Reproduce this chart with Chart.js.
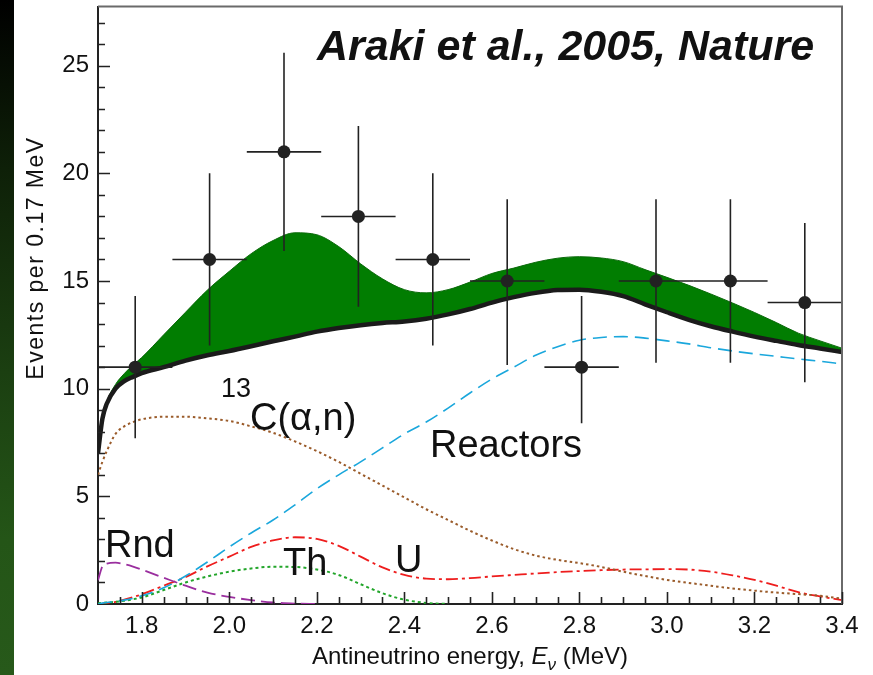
<!DOCTYPE html>
<html>
<head>
<meta charset="utf-8">
<title>Araki et al., 2005 - antineutrino spectrum</title>
<script src="https://cdn.jsdelivr.net/npm/chart.js@4.4.0/dist/chart.umd.min.js"></script>
<style>
  html, body { margin: 0; padding: 0; background: #fff; }
  #wrap { position: relative; width: 873px; height: 675px; background: #fff; overflow: hidden; }
  #strip { position: absolute; left: 0; top: 0; width: 14px; height: 675px;
           background: linear-gradient(to bottom, #000 0%, #0e2008 25%, #1b3f11 55%, #245517 80%, #27591a 100%); }
  #chart { position: absolute; left: 0; top: 0; }
</style>
</head>
<body>
<div id="wrap">
  <div id="strip"></div>
  <canvas id="chart" width="873" height="675"></canvas>
</div>
<script>
// Energy grid (MeV) the model curves are read at
const energy = [1.70, 1.71, 1.72, 1.74, 1.76, 1.78, 1.80, 1.85, 1.90, 1.95,
                2.00, 2.05, 2.10, 2.15, 2.20, 2.25, 2.30, 2.35, 2.40, 2.45,
                2.50, 2.55, 2.60, 2.65, 2.70, 2.75, 2.80, 2.85, 2.90, 2.95,
                3.00, 3.05, 3.10, 3.15, 3.20, 3.25, 3.30, 3.35, 3.40];

// total expected without geoneutrinos (thick black line)
const totalNoGeo = [7.0, 8.6, 9.3, 10.0, 10.35, 10.55, 10.72, 11.0, 11.3, 11.55,
                    11.75, 11.97, 12.2, 12.42, 12.65, 12.82, 12.95, 13.05, 13.12, 13.25,
                    13.45, 13.7, 14.0, 14.25, 14.45, 14.58, 14.6, 14.5, 14.3, 13.92,
                    13.55, 13.2, 12.9, 12.65, 12.42, 12.22, 12.03, 11.87, 11.7];

// upper edge of the green band (with geoneutrinos)
const totalWithGeo = [7.0, 8.65, 9.4, 10.2, 10.7, 11.1, 11.45, 12.5, 13.55, 14.58,
                      15.45, 16.27, 16.88, 17.24, 17.15, 16.6, 15.8, 15.1, 14.6, 14.45,
                      14.6, 14.95, 15.35, 15.6, 15.87, 16.06, 16.13, 16.07, 15.9, 15.53,
                      15.17, 14.8, 14.4, 13.98, 13.54, 13.07, 12.58, 12.22, 11.88];

const reactors = [0.0, 0.04, 0.07, 0.12, 0.18, 0.26, 0.38, 0.75, 1.3, 1.95,
                  2.65, 3.3, 3.9, 4.6, 5.35, 6.0, 6.6, 7.25, 7.9, 8.45,
                  9.1, 9.8, 10.45, 11.0, 11.55, 11.95, 12.25, 12.38, 12.42, 12.35,
                  12.22, 12.08, 11.9, 11.75, 11.62, 11.5, 11.38, 11.27, 11.15];

const carbon13 = [6.0, 6.6, 7.1, 7.9, 8.25, 8.45, 8.58, 8.7, 8.7, 8.62,
                  8.5, 8.25, 7.95, 7.55, 7.1, 6.6, 6.05, 5.5, 4.95, 4.4,
                  3.9, 3.4, 2.95, 2.55, 2.25, 2.05, 1.9, 1.72, 1.5, 1.3,
                  1.12, 0.98, 0.85, 0.72, 0.62, 0.53, 0.46, 0.38, 0.25];

const rnd = [1.1, 1.75, 1.88, 1.92, 1.85, 1.74, 1.6, 1.22, 0.85, 0.53,
             0.33, 0.18, 0.07, 0.02, 0.0, null, null, null, null, null,
             null, null, null, null, null, null, null, null, null, null,
             null, null, null, null, null, null, null, null, null];

const thorium = [0.03, 0.05, 0.07, 0.1, 0.15, 0.22, 0.3, 0.65, 1.0, 1.28,
                 1.5, 1.65, 1.73, 1.72, 1.6, 1.35, 0.92, 0.5, 0.2, 0.05,
                 0.0, null, null, null, null, null, null, null, null, null,
                 null, null, null, null, null, null, null, null, null];

const uranium = [0.0, 0.02, 0.05, 0.1, 0.2, 0.32, 0.45, 0.85, 1.25, 1.75,
                 2.2, 2.65, 2.95, 3.1, 3.02, 2.7, 2.2, 1.7, 1.35, 1.18,
                 1.15, 1.2, 1.28, 1.35, 1.42, 1.48, 1.53, 1.57, 1.6, 1.61,
                 1.62, 1.6, 1.5, 1.33, 1.12, 0.85, 0.55, 0.35, 0.18];

// observed events, 0.17 MeV bins
const binCenter = [1.785, 1.955, 2.125, 2.295, 2.465, 2.635, 2.805, 2.975, 3.145, 3.315];
const observed  = [11, 16, 21, 18, 16, 15, 11, 15, 15, 14];
const errUp     = [3.3, 4.0, 4.6, 4.2, 4.0, 3.8, 3.3, 3.8, 3.8, 3.7];
const errDown   = [3.3, 4.0, 4.6, 4.2, 4.0, 3.9, 2.6, 3.8, 3.8, 3.7];
const binWidth  = 0.17;

// tick labels
const xTickLabels = [1.8, 2.0, 2.2, 2.4, 2.6, 2.8, 3.0, 3.2, 3.4];
const yTickLabels = [0, 5, 10, 15, 20, 25];

const FONT = '"Liberation Sans", Arial, Helvetica, sans-serif';

function curve(values) {
    return energy.map(function (e, i) { return {x: e, y: values[i]}; });
}

// error bars under the data markers
const errorBars = {
    id: 'errorBars',
    beforeDatasetDraw: function (chart, args) {
        if (args.index !== 7) return;
        const ctx = chart.ctx, a = chart.chartArea;
        const xs = chart.scales.x, ys = chart.scales.y;
        ctx.save();
        ctx.beginPath();
        ctx.rect(a.left, a.top, a.right - a.left, a.bottom - a.top);
        ctx.clip();
        ctx.strokeStyle = '#222';
        ctx.lineWidth = 1.6;
        binCenter.forEach(function (e, i) {
            const px = xs.getPixelForValue(e);
            const py = ys.getPixelForValue(observed[i]);
            ctx.beginPath();
            ctx.moveTo(xs.getPixelForValue(e - binWidth / 2), py);
            ctx.lineTo(xs.getPixelForValue(e + binWidth / 2), py);
            ctx.moveTo(px, ys.getPixelForValue(observed[i] + errUp[i]));
            ctx.lineTo(px, ys.getPixelForValue(observed[i] - errDown[i]));
            ctx.stroke();
        });
        ctx.restore();
    }
};

// frame, inward ticks, titles and curve labels
const decorations = {
    id: 'decorations',
    afterDraw: function (chart) {
        const ctx = chart.ctx, a = chart.chartArea;
        const xs = chart.scales.x, ys = chart.scales.y;
        ctx.save();

        // top and right frame
        ctx.strokeStyle = '#6a6a6a';
        ctx.lineWidth = 2;
        ctx.beginPath();
        ctx.moveTo(a.left, a.top);
        ctx.lineTo(a.right, a.top);
        ctx.lineTo(a.right, a.bottom);
        ctx.stroke();

        // inward ticks
        ctx.strokeStyle = '#222';
        ctx.lineWidth = 1.6;
        ctx.beginPath();
        for (let k = 35; k <= 68; k++) {
            const px = Math.round(xs.getPixelForValue(k * 0.05)) + 0.5;
            const len = (k % 4 === 0) ? 12 : 7;
            ctx.moveTo(px, a.bottom);
            ctx.lineTo(px, a.bottom - len);
        }
        for (let v = 1; v <= 27; v++) {
            const py = Math.round(ys.getPixelForValue(v)) + 0.5;
            const len = (v % 5 === 0) ? 12 : 7;
            ctx.moveTo(a.left, py);
            ctx.lineTo(a.left + len, py);
        }
        ctx.stroke();

        ctx.fillStyle = '#111';
        ctx.textBaseline = 'alphabetic';
        ctx.textAlign = 'left';

        // title
        ctx.font = 'italic bold 43px ' + FONT;
        ctx.fillText('Araki et al., 2005, Nature', 317, 60);

        // curve labels
        ctx.font = '27px ' + FONT;
        ctx.fillText('13', 221, 397);
        ctx.font = '38px ' + FONT;
        ctx.fillText('C(\u03b1,n)', 250, 430);
        ctx.fillText('Reactors', 430, 457);
        ctx.fillText('Rnd', 105, 557);
        ctx.fillText('Th', 283, 575);
        ctx.fillText('U', 395, 572);

        // x axis title with italic E and subscript nu
        const parts = [
            {t: 'Antineutrino energy, ', f: '24px ' + FONT, dy: 0},
            {t: 'E', f: 'italic 24px ' + FONT, dy: 0},
            {t: '\u03bd', f: 'italic 17px ' + FONT, dy: 6},
            {t: ' (MeV)', f: '24px ' + FONT, dy: 0}
        ];
        let total = 0;
        parts.forEach(function (p) { ctx.font = p.f; p.w = ctx.measureText(p.t).width; total += p.w; });
        let x = (a.left + a.right) / 2 - total / 2;
        parts.forEach(function (p) {
            ctx.font = p.f;
            ctx.fillText(p.t, x, 664 + p.dy);
            x += p.w;
        });

        // y axis title
        ctx.translate(43, 258);
        ctx.rotate(-Math.PI / 2);
        ctx.textAlign = 'center';
        ctx.font = '23px ' + FONT;
        ctx.letterSpacing = '1.5px';
        ctx.fillText('Events per 0.17 MeV', 0, 0);
        ctx.restore();
    }
};

const ctx = document.getElementById('chart').getContext('2d');
const chart = new Chart(ctx, {
    type: 'line',
    data: {
        datasets: [{
                // 0: green band upper edge, filled down to the black curve
                data: curve(totalWithGeo),
                borderColor: '#0b6a0b',
                borderWidth: 1,
                backgroundColor: '#017d01',
                fill: '+1',
                pointRadius: 0,
                cubicInterpolationMode: 'monotone',
                order: 10
            },
            {
                // 1: total without geoneutrinos
                data: curve(totalNoGeo),
                borderColor: '#1b1b1b',
                borderWidth: 4.5,
                pointRadius: 0,
                fill: false,
                cubicInterpolationMode: 'monotone',
                order: 2
            },
            {
                // 2: reactors
                data: curve(reactors),
                borderColor: '#1aa7dc',
                borderWidth: 1.6,
                borderDash: [14, 7],
                pointRadius: 0,
                fill: false,
                cubicInterpolationMode: 'monotone',
                order: 3
            },
            {
                // 3: 13C(a,n)
                data: curve(carbon13),
                borderColor: '#9a5b2a',
                borderWidth: 2,
                borderDash: [2.5, 3],
                pointRadius: 0,
                fill: false,
                cubicInterpolationMode: 'monotone',
                order: 4
            },
            {
                // 4: random coincidences
                data: curve(rnd),
                borderColor: '#9a2e9e',
                borderWidth: 1.8,
                borderDash: [14, 6],
                pointRadius: 0,
                fill: false,
                spanGaps: false,
                cubicInterpolationMode: 'monotone',
                order: 5
            },
            {
                // 5: thorium
                data: curve(thorium),
                borderColor: '#22a52a',
                borderWidth: 2,
                borderDash: [3, 3],
                pointRadius: 0,
                fill: false,
                spanGaps: false,
                cubicInterpolationMode: 'monotone',
                order: 6
            },
            {
                // 6: uranium
                data: curve(uranium),
                borderColor: '#ee1d1d',
                borderWidth: 1.8,
                borderDash: [12, 4, 3, 4],
                pointRadius: 0,
                fill: false,
                cubicInterpolationMode: 'monotone',
                order: 7
            },
            {
                // 7: observed events
                data: binCenter.map(function (e, i) { return {x: e, y: observed[i]}; }),
                showLine: false,
                pointRadius: 6.5,
                pointBackgroundColor: '#222',
                pointBorderWidth: 0,
                order: 0
            }
        ]
    },
    options: {
        responsive: false,
        animation: false,
        events: [],
        layout: {padding: {left: 0, right: 31, top: 6, bottom: 0}},
        plugins: {
            legend: {display: false},
            tooltip: {enabled: false}
        },
        scales: {
            x: {
                type: 'linear',
                min: 1.7,
                max: 3.4,
                grid: {display: false, drawTicks: false},
                border: {display: true, color: '#222', width: 2},
                afterBuildTicks: function (s) {
                    s.ticks = xTickLabels.map(function (v) { return {value: v}; });
                },
                afterFit: function (s) {
                    s.height = 71;
                    s.paddingLeft = 0;
                    s.paddingRight = 0;
                },
                ticks: {
                    color: '#111',
                    font: {family: FONT, size: 24},
                    padding: 8,
                    maxRotation: 0,
                    autoSkip: false,
                    callback: function (v) { return Number(v).toFixed(1); }
                }
            },
            y: {
                min: 0,
                max: 27.75,
                grid: {display: false, drawTicks: false},
                border: {display: true, color: '#222', width: 2},
                afterBuildTicks: function (s) {
                    s.ticks = yTickLabels.map(function (v) { return {value: v}; });
                },
                afterFit: function (s) {
                    s.width = 98;
                    s.paddingTop = 0;
                    s.paddingBottom = 0;
                },
                ticks: {
                    color: '#111',
                    font: {family: FONT, size: 24},
                    padding: 9,
                    autoSkip: false,
                    callback: function (v) { return String(v); }
                }
            }
        }
    },
    plugins: [errorBars, decorations]
});
</script>
</body>
</html>
